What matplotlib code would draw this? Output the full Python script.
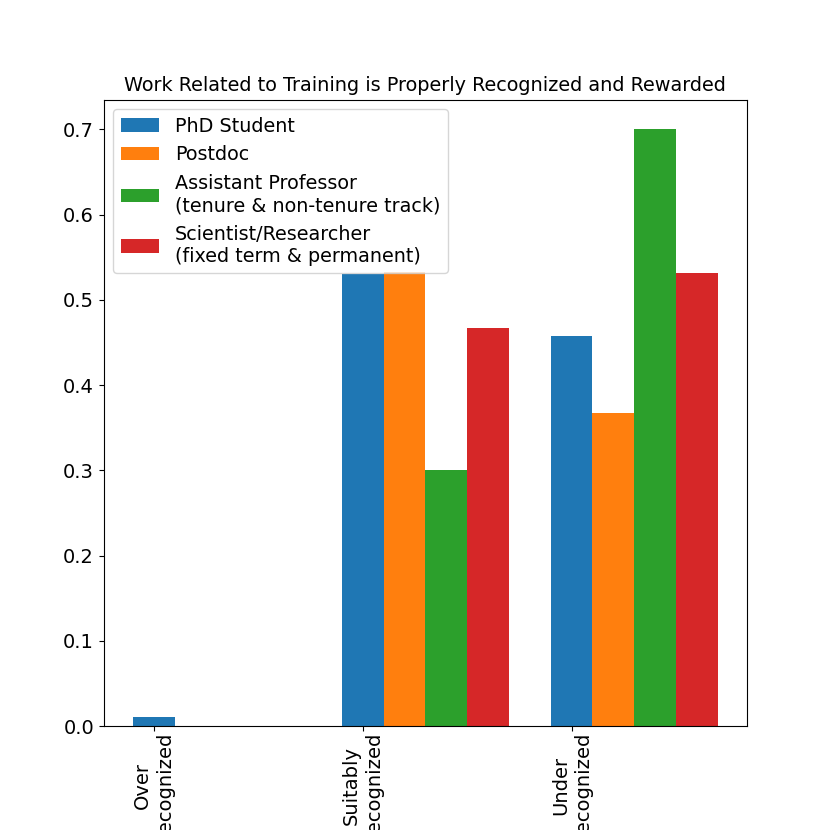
import numpy as np
import matplotlib
matplotlib.use("Agg")
import matplotlib.pyplot as plt

categories = ["Over\nrecognized", "Suitably\nrecognized", "Under\nrecognized"]
series_names = ["PhD Student", "Postdoc",
                "Assistant Professor\n(tenure & non-tenure track)",
                "Scientist/Researcher\n(fixed term & permanent)"]
phd = [0.0104, 0.531, 0.458]
postdoc = [0.0, 0.533, 0.367]
asst_prof = [0.0, 0.300, 0.700]
scientist = [0.0, 0.467, 0.532]
values = [phd, postdoc, asst_prof, scientist]
colors = ["#1f77b4", "#ff7f0e", "#2ca02c", "#d62728"]

fig = plt.figure(figsize=(8.3, 8.3), dpi=100)
ax = fig.add_subplot(111)
fig.subplots_adjust(left=0.125, right=0.9, top=0.88, bottom=0.125)

x = np.arange(len(categories))
width = 0.2
for i, (name, vals) in enumerate(zip(series_names, values)):
    ax.bar(x + i * width, vals, width, label=name, color=colors[i])

ax.set_xticks(x)
ax.set_xticklabels(categories, rotation=90, fontsize=14)
ax.tick_params(axis="x", pad=0.5)
ax.tick_params(axis="y", labelsize=14)
ax.set_title("Work Related to Training is Properly Recognized and Rewarded", fontsize=13.85)
ax.legend(loc="upper left", fontsize=13.8)

fig.savefig("out.png", dpi=100)
